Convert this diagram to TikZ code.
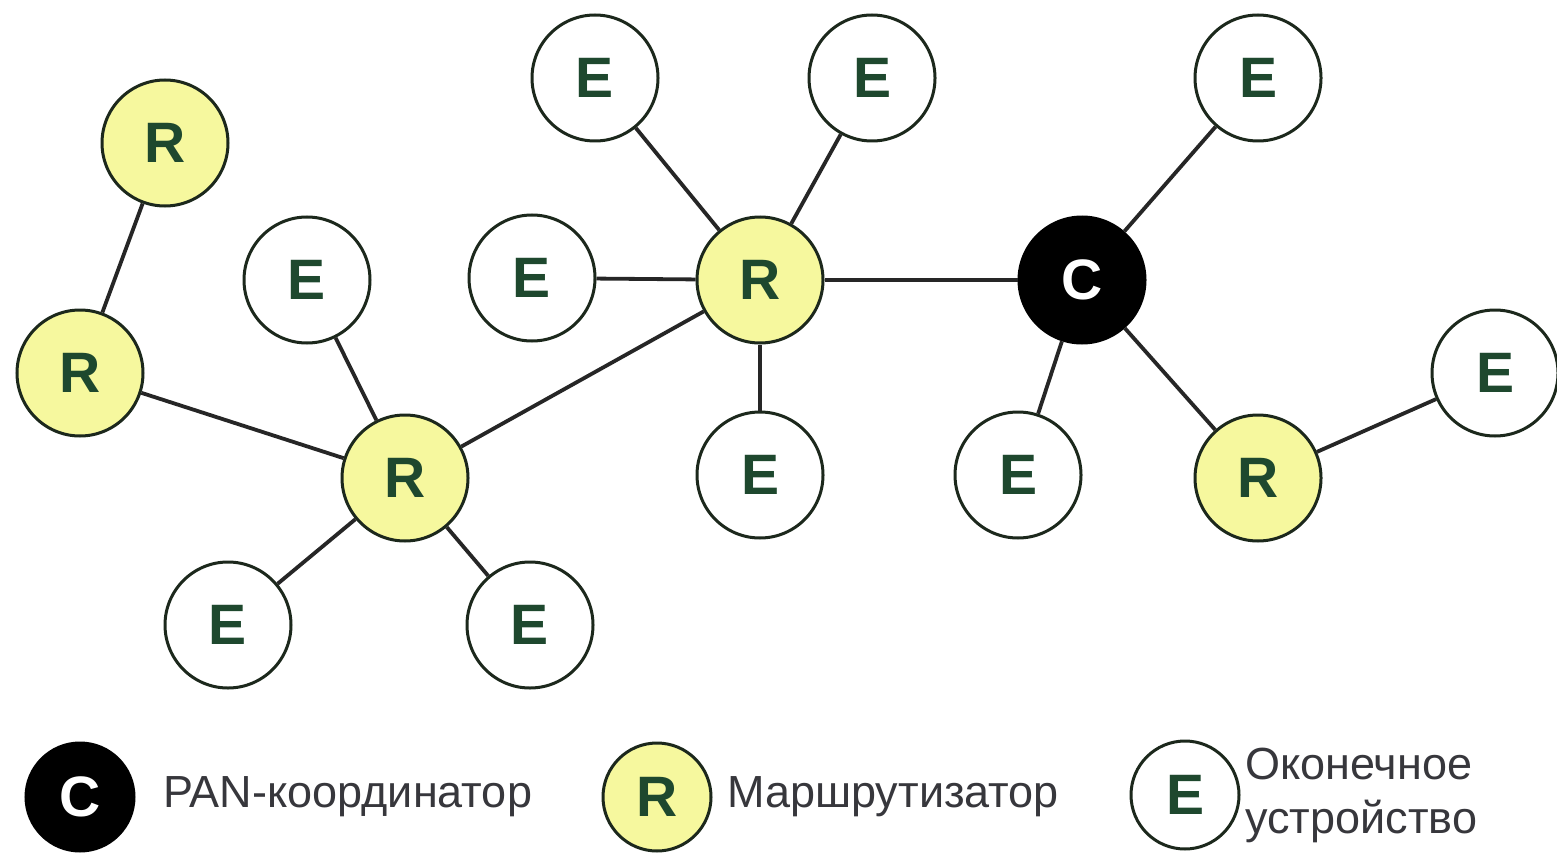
\documentclass[tikz,border=0pt]{standalone}
\usepackage{fontspec}
\setmainfont{Liberation Sans}
\begin{document}
\definecolor{rfill}{RGB}{246,248,158}
\definecolor{letter}{RGB}{30,72,46}
\definecolor{ring}{RGB}{28,40,28}
\definecolor{legtext}{RGB}{55,55,60}
\begin{tikzpicture}[x=1pt,y=-1pt,
  dev/.style={circle,draw=ring,line width=3pt,minimum size=126pt,inner sep=0pt,
    font=\fontsize{57}{60}\selectfont\bfseries,text=letter},
  enode/.style={dev,fill=white},
  rnode/.style={dev,fill=rfill},
  cnode/.style={dev,fill=black,draw=black,text=white},
  small/.style={minimum size=108pt},
  link/.style={line width=3.8pt,draw=black!85},
  legend/.style={font=\fontsize{45}{54}\selectfont,text=legtext,anchor=west,inner sep=0pt}]
\useasboundingbox (0,0) rectangle (1557,853);
\fill[white] (0,0) rectangle (1557,853);
% device positions
\coordinate (pr1) at (165,143);
\coordinate (pr2) at (80,373);
\coordinate (pe1) at (307,280);
\coordinate (pr3) at (405,478);
\coordinate (pe2) at (228,625);
\coordinate (pe3) at (530,625);
\coordinate (pe4) at (532,278);
\coordinate (pr4) at (760,280);
\coordinate (pe5) at (595,78);
\coordinate (pe6) at (872,78);
\coordinate (pe7) at (760,475);
\coordinate (pc) at (1082,280);
\coordinate (pe8) at (1258,78);
\coordinate (pe9) at (1018,475);
\coordinate (pr5) at (1258,478);
\coordinate (pe10) at (1495,373);
% devices
\node[rnode] (r1) at (pr1) {R};
\node[rnode] (r2) at (pr2) {R};
\node[enode] (e1) at (pe1) {E};
\node[rnode] (r3) at (pr3) {R};
\node[enode] (e2) at (pe2) {E};
\node[enode] (e3) at (pe3) {E};
\node[enode] (e4) at (pe4) {E};
\node[rnode] (r4) at (pr4) {R};
\node[enode] (e5) at (pe5) {E};
\node[enode] (e6) at (pe6) {E};
\node[enode] (e7) at (pe7) {E};
\node[cnode] (c) at (pc) {C};
\node[enode] (e8) at (pe8) {E};
\node[enode] (e9) at (pe9) {E};
\node[rnode] (r5) at (pr5) {R};
\node[enode] (e10) at (pe10) {E};
% links between devices, from rim to rim
\draw[link] (r1) -- (r2);
\draw[link] (r2) -- (r3);
\draw[link] (e1) -- (r3);
\draw[link] (r3) -- (e2);
\draw[link] (r3) -- (e3);
\draw[link] (r3) -- (r4);
\draw[link] (e4) -- (r4);
\draw[link] (r4) -- (e5);
\draw[link] (r4) -- (e6);
\draw[link] (r4) -- (e7);
\draw[link] (r4) -- (c);
\draw[link] (c) -- (e8);
\draw[link] (c) -- (e9);
\draw[link] (c) -- (r5);
\draw[link] (r5) -- (e10);
% legend
\node[cnode,small] (lc) at (80,797) {C};
\node[legend] (lct) at (163,797) {PAN-координатор};
\node[rnode,small] (lr) at (657,797) {R};
\node[legend] (lrt) at (727,797) {Маршрутизатор};
\node[enode,small] (le) at (1185,795) {E};
\node[legend,align=left] (let) at (1245,795) {Оконечное\\устройство};
\end{tikzpicture}
\end{document}
